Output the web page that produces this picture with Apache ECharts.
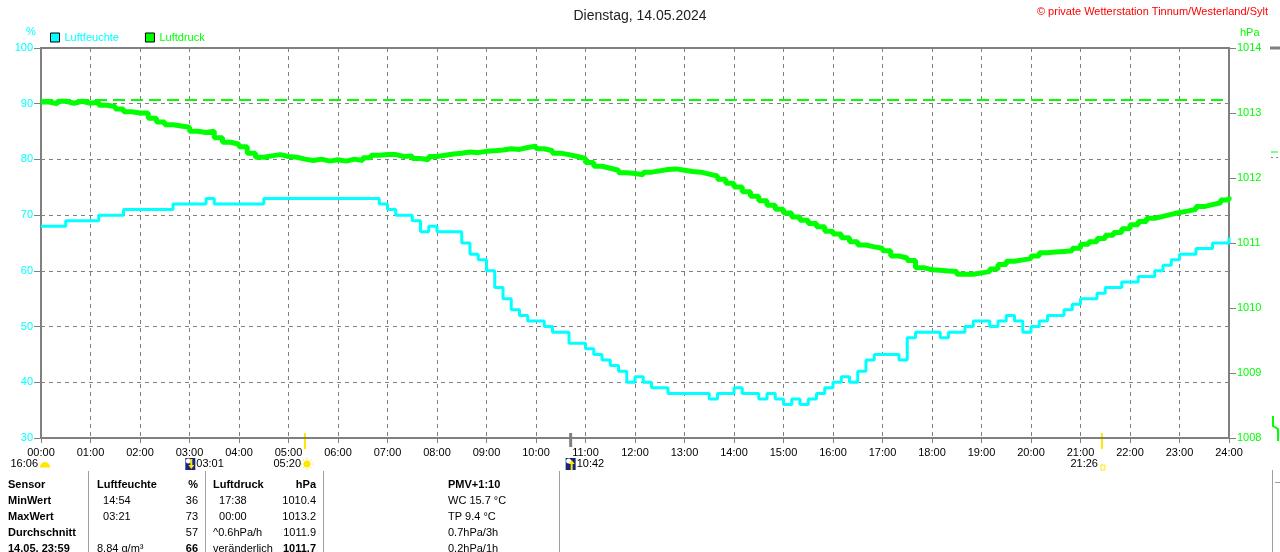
<!DOCTYPE html>
<html><head><meta charset="utf-8">
<script src="https://cdn.jsdelivr.net/npm/echarts@6/dist/echarts.min.js"></script>
<style>html,body{margin:0;padding:0;background:#fff}#c{width:1280px;height:552px}</style>
</head><body><div id="c"></div>
<script>
const chartTitle = 'Dienstag, 14.05.2024';
const copyright = '\u00A9 private Wetterstation Tinnum/Westerland/Sylt';
const seriesNames = ['Luftfeuchte', 'Luftdruck'];
const stepMinutes = 10;
// Luftfeuchte (%), one value every 10 minutes, 00:00 .. 24:00
const humidity = [
  68,68,68,69,69,69,
  69,70,70,70,71,71,
  71,71,71,71,72,72,
  72,72,73,72,72,72,
  72,72,72,73,73,73,
  73,73,73,73,73,73,
  73,73,73,73,73,72,
  71,70,70,69,67,68,
  67,67,67,65,63,62,
  60,57,55,53,52,51,
  51,50,49,49,47,47,
  46,45,44,43,42,40,
  41,40,39,39,38,38,
  38,38,38,37,38,38,
  39,38,38,37,38,37,
  36,37,36,37,38,39,
  40,41,40,42,44,45,
  45,45,44,48,49,49,
  49,48,49,49,50,51,
  51,50,51,52,51,49,
  50,51,52,52,53,54,
  55,55,56,57,57,58,
  58,59,59,60,61,62,
  63,63,64,64,65,65,
  66
];
// Luftdruck (hPa), one value every 10 minutes, 00:00 .. 24:00
const pressure = [
  1013.17,1013.14,1013.18,1013.15,1013.18,1013.15,
  1013.17,1013.12,1013.10,1013.06,1013.02,1013.00,
  1013.00,1012.92,1012.86,1012.82,1012.80,1012.78,
  1012.72,1012.70,1012.72,1012.62,1012.55,1012.52,
  1012.48,1012.38,1012.32,1012.34,1012.36,1012.33,
  1012.32,1012.29,1012.27,1012.29,1012.26,1012.28,
  1012.26,1012.29,1012.27,1012.31,1012.35,1012.36,
  1012.36,1012.33,1012.34,1012.30,1012.28,1012.33,
  1012.35,1012.37,1012.38,1012.40,1012.39,1012.41,
  1012.42,1012.43,1012.45,1012.44,1012.47,1012.49,
  1012.45,1012.42,1012.38,1012.36,1012.33,1012.30,
  1012.24,1012.18,1012.15,1012.12,1012.08,1012.07,
  1012.05,1012.09,1012.11,1012.13,1012.14,1012.12,
  1012.10,1012.09,1012.06,1012.03,1011.98,1011.92,
  1011.86,1011.79,1011.72,1011.65,1011.58,1011.52,
  1011.46,1011.40,1011.35,1011.30,1011.25,1011.18,
  1011.14,1011.08,1011.02,1010.97,1010.94,1010.92,
  1010.88,1010.80,1010.77,1010.73,1010.62,1010.59,
  1010.58,1010.57,1010.56,1010.52,1010.52,1010.54,
  1010.56,1010.60,1010.67,1010.72,1010.74,1010.76,
  1010.80,1010.85,1010.86,1010.87,1010.88,1010.92,
  1010.98,1011.02,1011.07,1011.12,1011.16,1011.22,
  1011.28,1011.33,1011.38,1011.41,1011.44,1011.47,
  1011.49,1011.52,1011.56,1011.59,1011.62,1011.66,
  1011.71
];
const pressureMax = 1013.2;
const humAxis = {min: 30, max: 100, interval: 10};
const presAxis = {min: 1008, max: 1014, interval: 1};
const timeAxis = {min: 0, max: 1440, interval: 60};
// sun / moon events: label, minute of day (where drawn), kind
const astroLabels = ['16:06', '03:01', '05:20', '10:42', '21:26'];
const astroMinutes = [0, 181, 320, 642, 1286];
const astroKinds = ['sunset', 'moonset', 'sunrise', 'moonrise', 'sunhollow'];
// table
const tableRows = [
  ['Sensor', 'Luftfeuchte', '%', 'Luftdruck', 'hPa', 'PMV+1:10'],
  ['MinWert', '  14:54', '36', '  17:38', '1010.4', 'WC 15.7 \u00B0C'],
  ['MaxWert', '  03:21', '73', '  00:00', '1013.2', 'TP 9.4 \u00B0C'],
  ['Durchschnitt', '', '57', '^0.6hPa/h', '1011.9', '0.7hPa/3h'],
  ['14.05. 23:59', '8.84 g/m\u00B3', '66', 'ver\u00E4nderlich', '1011.7', '0.2hPa/1h']
];

const CYAN = '#00FFFF', GREEN = '#00FF00', GRAY = '#808080';
const FONT = '"Liberation Sans", Arial, sans-serif';
const pad = n => (n < 10 ? '0' : '') + n;

const chart = echarts.init(document.getElementById('c'));
chart.setOption({
  animation: false,
  backgroundColor: '#fff',
  textStyle: {fontFamily: FONT},
  title: {text: chartTitle, left: 'center', top: 4,
    textStyle: {fontSize: 14, fontWeight: 'normal', color: '#222', fontFamily: FONT}},
  legend: {left: 50, top: 32, padding: 0, itemWidth: 9, itemHeight: 9, itemGap: 26,
    icon: 'rect', itemStyle: {borderColor: '#000', borderWidth: 1},
    data: [
      {name: seriesNames[0], textStyle: {color: CYAN}},
      {name: seriesNames[1], textStyle: {color: GREEN}}
    ],
    textStyle: {fontSize: 11, fontFamily: FONT, padding: [0, 0, 0, 0]}},
  grid: {left: 41, right: 51, top: 48, bottom: 114, show: true, borderColor: GRAY, borderWidth: 2},
  xAxis: {type: 'value', min: timeAxis.min, max: timeAxis.max, interval: timeAxis.interval,
    axisLine: {show: true, lineStyle: {color: GRAY, width: 2}},
    axisTick: {show: true, length: 5, lineStyle: {color: GRAY}},
    axisLabel: {color: '#000', fontSize: 11, margin: 9, fontFamily: FONT,
      formatter: v => pad(Math.round(v / 60)) + ':00'},
    splitLine: {show: true, lineStyle: {color: GRAY, type: [4, 4], width: 1}}},
  yAxis: [
    {type: 'value', position: 'left', min: humAxis.min, max: humAxis.max, interval: humAxis.interval,
      axisLine: {show: true, lineStyle: {color: GRAY, width: 2}},
      axisTick: {show: true, length: 7, lineStyle: {color: GRAY}},
      axisLabel: {color: CYAN, fontSize: 11, margin: 8, fontFamily: FONT, formatter: v => String(v)},
      splitLine: {show: true, lineStyle: {color: GRAY, type: [4, 4], width: 1}}},
    {type: 'value', position: 'right', min: presAxis.min, max: presAxis.max, interval: presAxis.interval,
      axisLine: {show: true, lineStyle: {color: GRAY, width: 2}},
      axisTick: {show: true, length: 7, lineStyle: {color: GRAY}},
      axisLabel: {color: GREEN, fontSize: 11, margin: 8, fontFamily: FONT, formatter: v => String(v)},
      splitLine: {show: false}}
  ],
  series: [
    {name: seriesNames[0], type: 'line', yAxisIndex: 0, step: 'end', showSymbol: false, symbol: 'none',
      itemStyle: {color: CYAN}, lineStyle: {color: CYAN, width: 3},
      data: humidity.map((v, i) => [i * stepMinutes, v]), z: 3},
    {name: seriesNames[1], type: 'line', yAxisIndex: 1, step: 'end', showSymbol: false, symbol: 'none',
      itemStyle: {color: GREEN}, lineStyle: {color: GREEN, width: 5},
      data: pressure.map((v, i) => [i * stepMinutes, v]), z: 4,
      markLine: {silent: true, symbol: 'none', label: {show: false},
        lineStyle: {color: GREEN, type: [12, 6], width: 2},
        data: [{yAxis: pressureMax}]}}
  ]
});

// overlay graphics (text, icons, table)
const g = [];
const txt = (x, y, s, o) => g.push({type: 'text', x, y, silent: true,
  style: Object.assign({text: s, font: '11px ' + FONT, fill: '#000', textVerticalAlign: 'middle'}, o || {})});
const line = (x1, y1, x2, y2, c, w) => g.push({type: 'line', silent: true,
  shape: {x1, y1, x2, y2}, style: {stroke: c, lineWidth: w || 1}});

txt(1268, 12, copyright, {fill: '#ff0000', textAlign: 'right'});
txt(26, 32, '%', {fill: CYAN});
txt(1240, 33, 'hPa', {fill: GREEN});

// astro events
const baseY = 464;
astroMinutes.forEach((m, i) => {
  const x = chart.convertToPixel({xAxisIndex: 0}, m);
  const kind = astroKinds[i];
  if (kind === 'sunset') {
    txt(x - 3, baseY, astroLabels[i], {textAlign: 'right'});
    g.push({type: 'sector', silent: true, shape: {cx: x + 4, cy: baseY + 3, r: 5, r0: 0, startAngle: Math.PI, endAngle: 2 * Math.PI},
      style: {fill: '#FFE800'}});
    line(x - 1, baseY + 3, x + 9, baseY + 3, '#FFE800', 1);
  } else if (kind === 'sunrise') {
    txt(x - 4, baseY, astroLabels[i], {textAlign: 'right'});
    g.push({type: 'circle', silent: true, shape: {cx: x + 2, cy: baseY, r: 3.5}, style: {fill: '#FFE800'}});
    for (let k = 0; k < 8; k++) {
      const a = k * Math.PI / 4;
      line(x + 2 + Math.cos(a) * 4.5, baseY + Math.sin(a) * 4.5, x + 2 + Math.cos(a) * 6, baseY + Math.sin(a) * 6, '#FFE800', 1);
    }
    line(x, 433, x, 449, '#FFE800', 2);
  } else if (kind === 'sunhollow') {
    txt(x - 4, baseY, astroLabels[i], {textAlign: 'right'});
    g.push({type: 'rect', silent: true, shape: {x: x - 1, y: baseY + 1, width: 4, height: 5},
      style: {fill: 'none', stroke: '#FFE800', lineWidth: 1}});
    line(x, 433, x, 449, '#FFE800', 2);
  } else {
    g.push({type: 'rect', silent: true, shape: {x: x - 5, y: baseY - 6, width: 10, height: 12}, style: {fill: '#1a237e'}});
    g.push({type: 'circle', silent: true, shape: {cx: x - 2, cy: baseY - 3, r: 2.5}, style: {fill: '#fff'}});
    if (kind === 'moonset') {
      line(x + 1, baseY - 5, x + 1, baseY + 3, '#FFE800', 2);
      g.push({type: 'polygon', silent: true, shape: {points: [[x - 2, baseY + 1], [x + 4, baseY + 1], [x + 1, baseY + 5]]}, style: {fill: '#FFE800'}});
    } else {
      line(x + 1, baseY - 1, x + 1, baseY + 6, '#FFE800', 2);
      g.push({type: 'polygon', silent: true, shape: {points: [[x - 2, baseY], [x + 4, baseY], [x + 1, baseY - 4]]}, style: {fill: '#FFE800'}});
      line(x, 433, x, 447, GRAY, 3);
    }
    txt(x + 6, baseY, astroLabels[i]);
  }
});

// table
const rowY = [485, 501, 517, 533, 549];
const colX = [8, 97, 198, 213, 316, 448];
const colAlign = ['left', 'left', 'right', 'left', 'right', 'left'];
tableRows.forEach((row, r) => {
  row.forEach((s, c) => {
    const bold = r === 0 || c === 0 || (r === 4 && (c === 2 || c === 4));
    txt(colX[c], rowY[r], s, {textAlign: colAlign[c], font: (bold ? 'bold ' : '') + '11px ' + FONT});
  });
});
[88, 205, 323, 559].forEach(x => line(x + 0.5, 471, x + 0.5, 552, '#a0a0a0', 1));
line(1272.5, 470, 1272.5, 552, '#a0a0a0', 1);
line(1275, 482.5, 1280, 482.5, '#a0a0a0', 1);

// fragments of neighbouring panel at the right edge
line(1270, 48, 1280, 48, GRAY, 3);
line(1271, 152, 1278, 152, GREEN, 1);
line(1271, 157.5, 1273, 157.5, GRAY, 1);
line(1276, 157.5, 1278, 157.5, GRAY, 1);
g.push({type: 'polyline', silent: true, shape: {points: [[1273, 416], [1273, 426], [1278, 429], [1278, 441]]},
  style: {stroke: GREEN, lineWidth: 2, fill: 'none'}});

chart.setOption({graphic: g});
</script></body></html>
